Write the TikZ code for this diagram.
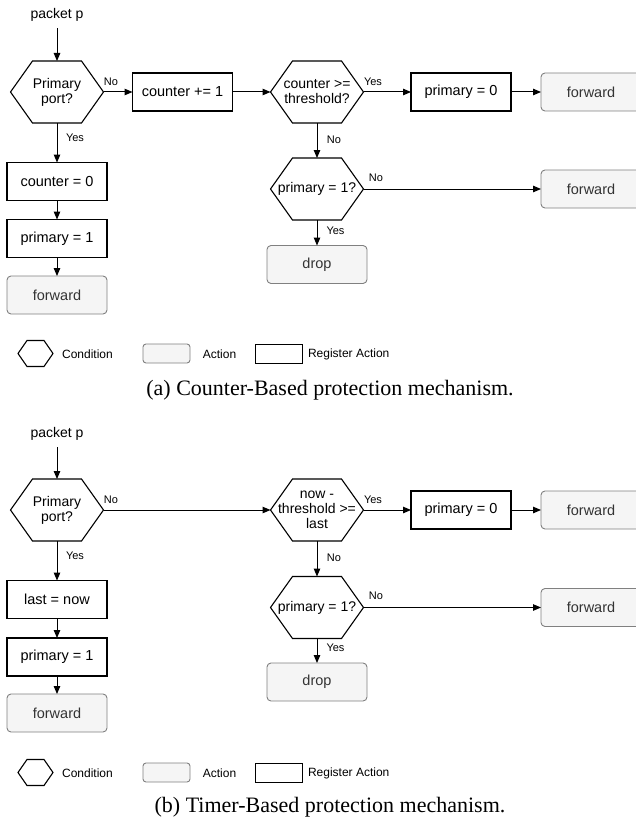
\documentclass[tikz,border=0pt]{standalone}
\usepackage{fontspec}
\setmainfont{Liberation Sans}
\newfontfamily\capfont{Liberation Serif}
\usetikzlibrary{arrows.meta,calc}
\definecolor{actfill}{HTML}{F5F5F5}
\definecolor{actdraw}{HTML}{808080}
\definecolor{acttext}{HTML}{333333}
\begin{document}
\begin{tikzpicture}[x=1pt,y=-1pt,
  every node/.style={inner sep=0pt, outer sep=0pt},
  txt/.style={font=\fontsize{14}{15}\selectfont, align=center},
  reg/.style={txt, font=\fontsize{14.5}{15}\selectfont, draw=black, line width=1.1pt, minimum width=100pt, minimum height=38pt},
  act/.style={txt, font=\fontsize{14.5}{15}\selectfont, draw=actdraw, fill=actfill, text=acttext, line width=0.9pt, rounded corners=4pt, minimum width=100pt, minimum height=38pt},
  hexa/.style={txt, minimum width=93pt, minimum height=62pt,
    append after command={\pgfextra{\draw[line width=1.1pt]
      (\tikzlastnode.west) -- ([xshift=#1]\tikzlastnode.north west)
      -- ([xshift=-#1]\tikzlastnode.north east) -- (\tikzlastnode.east)
      -- ([xshift=-#1]\tikzlastnode.south east) -- ([xshift=#1]\tikzlastnode.south west) -- cycle;}}},
  hexa/.default=22pt,
  lab/.style={font=\fontsize{11}{12}\selectfont},
  leg/.style={font=\fontsize{12}{13}\selectfont},
  pk/.style={txt, inner ysep=6.5pt},
  captext/.style={font=\capfont\fontsize{22}{24}\selectfont},
  arr/.style={-{Triangle[length=8pt,width=6.5pt]}, line width=1pt}
]
\useasboundingbox (0,0) rectangle (636,824);
\clip (0,0) rectangle (636,824);

% ---------------- (a) ----------------
\node[pk] (a-pk) at (57,15) {packet p};
\node[hexa] (a-h1) at (57,92) {Primary\\port?};
\node[reg] (a-inc) at (182.5,92) {counter += 1};
\node[hexa] (a-h2) at (317,92) {counter >=\\threshold?};
\node[reg] (a-p0) at (461,92) {primary = 0};
\node[act] (a-f1) at (591,92) {forward};
\node[hexa] (a-h3) at (317,189) {primary = 1?};
\node[act] (a-f2) at (591,189) {forward};
\node[act] (a-drop) at (317,264.5) {drop};
\node[reg] (a-c0) at (57,181.5) {counter = 0};
\node[reg] (a-p1) at (57,238.5) {primary = 1};
\node[act] (a-f0) at (57,295) {forward};

\draw[arr] (a-pk) -- (a-h1);
\draw[arr] (a-h1.east) -- (a-inc.west);
\draw[arr] (a-inc.east) -- (a-h2.west);
\draw[arr] (a-h2.east) -- (a-p0.west);
\draw[arr] (a-p0.east) -- (a-f1.west);
\draw[arr] (a-h2.south) -- (a-h3.north);
\draw[arr] (a-h3.east) -- (a-f2.west);
\draw[arr] (a-h3.south) -- (a-drop.north);
\draw[arr] (a-h1.south) -- (a-c0.north);
\draw[arr] (a-c0) -- (a-p1);
\draw[arr] (a-p1) -- (a-f0);

\node[lab] (a-l1) at (111,82) {No};
\node[lab] (a-l2) at (373,82) {Yes};
\node[lab] (a-l3) at (334,140) {No};
\node[lab] (a-l4) at (376,178) {No};
\node[lab] (a-l5) at (335.5,231) {Yes};
\node[lab] (a-l6) at (75,138) {Yes};

\node[hexa=9pt, minimum width=35pt, minimum height=26pt] (a-lh) at (35.5,353.5) {};
\node[leg] (a-lht) at (87.5,354) {Condition};
\node[act, minimum width=47pt, minimum height=19pt, rounded corners=3pt] (a-la) at (166.5,353.5) {};
\node[leg] (a-lat) at (219.5,354) {Action};
\node[reg, line width=1pt, minimum width=47pt, minimum height=19pt] (a-lr) at (278.5,353.5) {};
\node[leg, anchor=west] (a-lrt) at (308,354) {Register Action};
\node[captext] (a-cap) at (330,390) {(a) Counter-Based protection mechanism.};

% ---------------- (b) ----------------
\node[pk] (b-pk) at (57,434) {packet p};
\node[hexa] (b-h1) at (57,510) {Primary\\port?};
\node[hexa] (b-h2) at (317,510) {now -\\threshold >=\\last};
\node[reg] (b-p0) at (461,510) {primary = 0};
\node[act] (b-f1) at (591,510) {forward};
\node[hexa] (b-h3) at (317,607.5) {primary = 1?};
\node[act] (b-f2) at (591,607.5) {forward};
\node[act] (b-drop) at (317,682) {drop};
\node[reg] (b-c0) at (57,599.5) {last = now};
\node[reg] (b-p1) at (57,657) {primary = 1};
\node[act] (b-f0) at (57,713) {forward};

\draw[arr] (b-pk) -- (b-h1);
\draw[arr] (b-h1.east) -- (b-h2.west);
\draw[arr] (b-h2.east) -- (b-p0.west);
\draw[arr] (b-p0.east) -- (b-f1.west);
\draw[arr] (b-h2.south) -- (b-h3.north);
\draw[arr] (b-h3.east) -- (b-f2.west);
\draw[arr] (b-h3.south) -- (b-drop.north);
\draw[arr] (b-h1.south) -- (b-c0.north);
\draw[arr] (b-c0) -- (b-p1);
\draw[arr] (b-p1) -- (b-f0);

\node[lab] (b-l1) at (111,500) {No};
\node[lab] (b-l2) at (373,500) {Yes};
\node[lab] (b-l3) at (334,558) {No};
\node[lab] (b-l4) at (376,596) {No};
\node[lab] (b-l5) at (335.5,648) {Yes};
\node[lab] (b-l6) at (75,556) {Yes};

\node[hexa=9pt, minimum width=35pt, minimum height=26pt] (b-lh) at (35.5,772.5) {};
\node[leg] (b-lht) at (87.5,773) {Condition};
\node[act, minimum width=47pt, minimum height=19pt, rounded corners=3pt] (b-la) at (166.5,772.5) {};
\node[leg] (b-lat) at (219.5,773) {Action};
\node[reg, line width=1pt, minimum width=47pt, minimum height=19pt] (b-lr) at (278.5,772.5) {};
\node[leg, anchor=west] (b-lrt) at (308,773) {Register Action};
\node[captext] (b-cap) at (330,807) {(b) Timer-Based protection mechanism.};
\end{tikzpicture}
\end{document}
